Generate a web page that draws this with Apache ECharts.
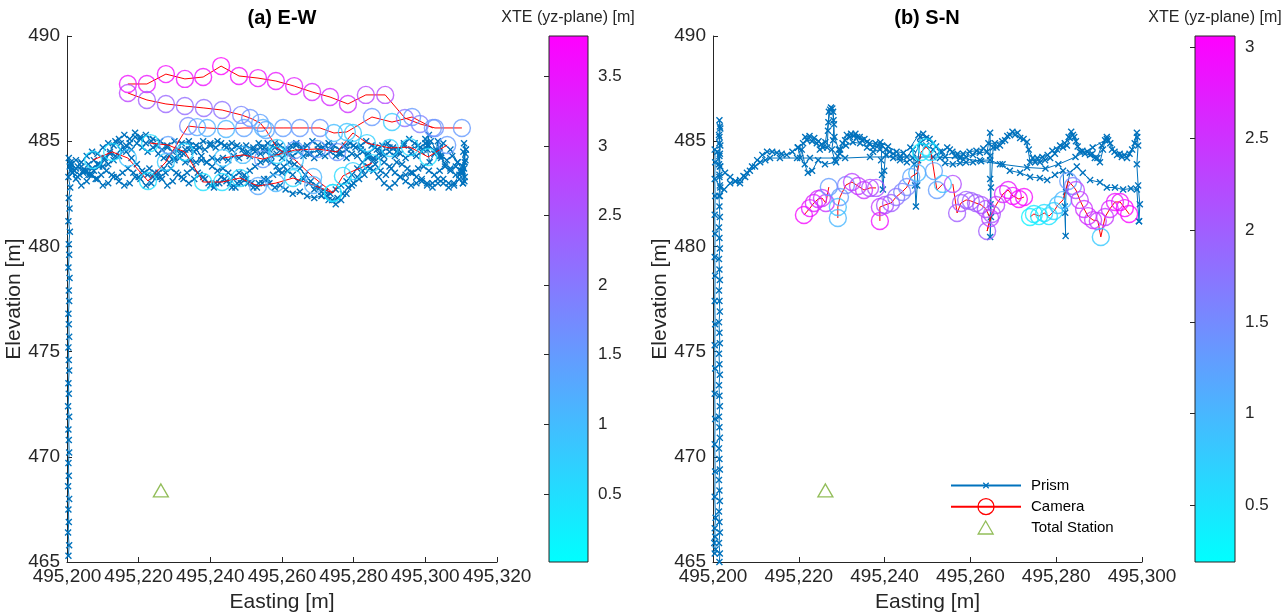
<!DOCTYPE html>
<html>
<head>
<meta charset="utf-8">
<script src="https://cdn.jsdelivr.net/npm/echarts@6/dist/echarts.min.js"></script>
<style>
  html, body { margin: 0; padding: 0; background: #fff; }
  #chart { width: 1288px; height: 613px; }
</style>
</head>
<body>
<div id="chart"></div>
<script>
// ---------- axis ticks ----------
const EASTING_TICKS_A = [495200, 495320, 20];   // min, max, step
const EASTING_TICKS_B = [495200, 495300, 20];
const ELEVATION_TICKS = [465, 490, 5];
const XTE_RANGE_A = [0.01, 3.79];
const XTE_RANGE_B = [0.19, 3.06];
const XTE_TICKS_A = [0.5, 1, 1.5, 2, 2.5, 3, 3.5];
const XTE_TICKS_B = [0.5, 1, 1.5, 2, 2.5, 3];

// Total station position [easting, elevation]
const totalStation = [495226.2, 468.4];

// ---------- (a) E-W : prism track [easting, elevation] ----------
const prismA_pass1 = [[495200.4,465.3],[495200.6,465.8],[495200.3,466.4],[495200.5,466.9],[495200.4,467.5],[495200.6,468.0],[495200.3,468.6],[495200.5,469.1],[495200.4,469.7],[495200.6,470.2],[495200.5,470.8],[495200.4,471.3],[495200.6,471.9],[495200.3,472.4],[495200.5,473.0],[495200.4,473.5],[495200.6,474.1],[495200.5,474.6],[495200.4,475.2],[495200.6,475.7],[495200.5,476.3],[495200.4,476.8],[495200.6,477.4],[495200.5,477.9],[495200.7,478.5],[495200.4,479.0],[495200.6,479.6],[495200.5,480.1],[495200.8,480.7],[495200.4,481.2],[495200.7,481.8],[495200.5,482.3],[495200.9,482.8],[495200.4,483.3],[495200.8,483.8],[495200.5,484.2],
  [495201.2,483.6],[495202.5,483.2],[495204,482.9],[495205.5,483.1],[495207,483.4],[495208.5,483.2],[495210,482.9],[495211.5,483.0],[495213,483.3],[495214.5,483.1],[495216,482.9],[495217.5,483.0],[495219,483.3],[495220.5,483.2],[495222,482.9],[495223.5,483.0],[495225,483.3],[495226.5,483.2],[495228,482.9],[495229.5,483.1],[495231,483.4],[495232.5,483.2],[495234,483.0],[495235.5,483.2],[495237,483.4],[495238.5,483.2],[495240,482.9],[495241.5,483.0],[495243,483.3],[495244.5,483.1],[495246,482.8],[495247.5,483.0],[495249,483.2],[495250.5,483.0],[495252,482.8],[495253.5,483.0],[495255,483.2],[495256.5,483.0],[495258,482.8],[495259.5,482.9],[495261,482.7],[495263,482.5],[495265,482.6],[495267,482.4],[495269,482.3],[495271,482.4],[495273,482.2],[495275,482.0],[495276.5,482.2],[495278,482.5],[495279.5,482.9],[495281,483.3],[495282.5,483.6],[495284,483.8],[495285.5,483.6],[495287,483.3],[495288.5,483.0],[495290,482.8],[495291.5,483.0],[495293,483.3],[495294.5,483.1],[495296,482.9],[495297.5,483.0],[495299,483.2],[495300.5,483.0],[495302,482.8],[495303.5,483.0],[495305,483.2],[495306.5,483.0],[495308,482.9],[495309.5,483.2],[495310.5,483.0]];
const prismA_pass2 = [[495310.5,483.0],[495311,483.3],[495310.8,483.7],[495311.2,484.1],[495310.6,484.5],[495311,484.0],[495310.5,483.5],[495310.9,483.1],[495310.4,483.6],[495309,484.0],[495307,484.6],[495305,484.9],[495304,484.3],[495303.5,485.0],[495303,484.5],[495301,484.8],[495300,485.1],[495299.5,484.6],[495298,484.8],[495296,484.6],[495294,484.8],[495292,484.5],[495290,484.7],[495288,484.5],[495286,484.7],[495284,484.4],[495282,484.6],[495280,484.8],[495278,484.6],[495276,484.4],[495274,484.6],[495272,484.8],[495270,484.6],[495268,484.4],[495266,484.6],[495264,484.8],[495262,484.6],[495260,484.5],[495258,484.7],[495256,484.9],[495254,484.7],[495252,484.6],[495250,484.8],[495248,484.7],[495246,484.9],[495244,484.8],[495242,485.0],[495240,484.9],[495238,485.0],[495236,484.8],[495234,485.0],[495232,484.9],[495230,485.0],[495228,484.8],[495226,485.0],[495224,485.1],[495222,485.3],[495220.5,485.1],[495219,485.2],[495217.5,484.9],[495216,484.6],[495214.5,484.3],[495213,484.1],[495211.5,483.9],[495210,483.8],[495208.5,483.9],[495207,483.7],[495205.5,483.6],[495204,483.8],[495202.5,483.7],[495201.2,483.9]];
const prismA_pass3 = [[495201.2,483.9],[495201.5,483.5],[495203,483.8],[495204.5,483.6],[495206,483.9],[495207.5,484.1],[495209,483.9],[495210.5,484.2],[495212,484.4],[495213.5,484.3],[495215,484.6],[495216.5,484.8],[495218,484.6],[495219.5,484.9],[495221,484.7],[495222.5,484.5],[495224,484.7],[495225.5,484.4],[495227,484.2],[495228.5,484.3],[495230,484.1],[495231.5,484.2],[495233,484.0],[495234.5,484.1],[495236,484.0],[495237.5,484.1],[495239,484.0],[495240.5,484.2],[495242,484.1],[495243.5,484.2],[495245,484.1],[495246.5,484.3],[495248,484.2],[495249.5,484.4],[495251,484.3],[495252.5,484.5],[495254,484.4],[495255.5,484.5],[495257,484.3],[495258.5,484.4],[495260,484.2],[495261.5,484.4],[495263,484.3],[495264.5,484.5],[495266,484.3],[495267.5,484.4],[495269,484.2],[495270.5,484.4],[495272,484.3],[495273.5,484.5],[495275,484.3],[495276.5,484.4],[495278,484.2],[495279.5,484.4],[495281,484.3],[495282.5,484.5],[495284,484.3],[495285.5,484.2],[495287,484.4],[495288.5,484.3],[495290,484.5],[495291.5,484.3],[495293,484.4],[495294.5,484.2],[495296,484.4],[495297.5,484.3],[495299,484.5],[495300.5,484.8],[495301,485.3],[495300.6,484.6],[495301.2,484.0],[495302.5,484.4],[495304,484.7],[495304.4,484.2],[495305.5,483.9],[495307,483.7],[495308.5,483.8],[495310,483.6]];
const prismA_pass4 = [[495310,483.6],[495309.5,483.4],[495308,483.0],[495306.5,482.8],[495305,483.0],[495303.5,483.2],[495302,483.0],[495300.5,482.9],[495299,483.1],[495297.5,483.3],[495296,483.5],[495294.5,483.4],[495293,483.3],[495291.5,483.5],[495290,483.8],[495288.5,484.0],[495287,484.2],[495285.5,484.1],[495284,484.2],[495282.5,484.0],[495281,483.7],[495279.5,483.4],[495278,483.1],[495276.5,482.9],[495275,482.7],[495273.5,482.5],[495272,482.6],[495270.5,482.8],[495269,482.7],[495267.5,483.0],[495266,483.2],[495264.5,483.1],[495263,483.4],[495261.5,483.6],[495260,483.5],[495258.5,483.8],[495257,484.0],[495255.5,484.1],[495254,484.0],[495252.5,483.8],[495251,483.6],[495249.5,483.4],[495248,483.5],[495246.5,483.3],[495245,483.5],[495243.5,483.7],[495242,483.6],[495240.5,483.8],[495239,484.0],[495237.5,484.3],[495236,484.6],[495234.5,484.8],[495233,484.6],[495231.5,484.4],[495230,484.2],[495228.5,484.0],[495227,483.7],[495225.5,483.5],[495224,483.3],[495222.5,483.4],[495221,483.6],[495219.5,483.9],[495218,484.2],[495216.5,484.5],[495215,484.9],[495213.5,485.0],[495212,484.5],[495210.5,484.1],[495209,483.8],[495207.5,483.6],[495206,483.4],[495204.5,483.5],[495203,483.3],[495201.5,483.5],[495200.8,483.8]];
const prismA_pass5 = [[495201.0,483.9],[495202.5,484.1],[495204,484.0],[495205.5,484.3],[495207,484.5],[495208.5,484.4],[495210,484.7],[495211.5,484.9],[495213,484.8],[495214.5,485.1],[495216,485.3],[495217.5,485.1],[495219,485.4],[495220.5,485.2],[495222,484.9],[495223.5,485.0],[495225,484.8],[495226.5,484.6],[495228,484.7],[495229.5,484.5],[495231,484.6],[495232.5,484.4],[495234,484.6],[495235.5,484.5],[495237,484.7],[495238.5,484.6],[495240,484.8],[495241.5,484.7],[495243,484.9],[495244.5,484.7],[495246,484.6],[495247.5,484.8],[495249,484.6],[495250.5,484.5],[495252,484.7],[495253.5,484.9],[495255,484.7],[495256.5,484.6],[495258,484.9],[495259.5,484.8],[495261,484.6],[495262.5,484.8],[495264,484.9],[495265.5,484.7],[495267,484.8],[495268.5,485.0],[495270,484.8],[495271.5,484.7],[495273,484.9],[495274.5,484.8],[495276,484.6],[495277.5,484.8],[495279,484.9],[495280.5,484.7],[495282,484.8],[495283.5,485.0],[495285,484.8],[495286.5,484.6],[495288,484.8],[495289.5,484.9],[495291,484.7],[495292.5,484.6],[495294,484.9],[495295.5,485.1],[495297,484.9],[495298.5,484.7],[495300,484.9],[495301.5,485.0],[495303,484.6],[495304.5,484.3],[495306,484.1],[495307.5,484.3],[495309,484.0],[495310.5,483.8],[495311.2,484.4],[495310.8,484.9],[495311.3,484.6]];
const prismA_pass6 = [[495311.3,484.6],[495310,483.5],[495308.5,483.4],[495307,483.6],[495305.5,483.8],[495304,483.6],[495302.5,483.4],[495301,483.6],[495299.5,483.8],[495298,483.7],[495296.5,483.5],[495295,483.7],[495293.5,483.9],[495292,484.0],[495290.5,483.7],[495289,483.4],[495287.5,483.6],[495286,483.9],[495284.5,483.7],[495283,483.4],[495281.5,483.2],[495280,483.0],[495278.5,482.8],[495277,482.5],[495275.5,482.3],[495274,482.2],[495272.5,482.4],[495271,482.6],[495269.5,482.9],[495268,483.1],[495266.5,483.4],[495265,483.7],[495263.5,483.9],[495262,484.0],[495260.5,483.8],[495259,483.6],[495257.5,483.4],[495256,483.2],[495254.5,483.0],[495253,482.8],[495251.5,483.0],[495250,483.2],[495248.5,483.0],[495247,482.8],[495245.5,483.0],[495244,483.2],[495242.5,483.0],[495241,482.8],[495239.5,483.0],[495238,483.3],[495236.5,483.5],[495235,483.7],[495233.5,483.5],[495232,483.3],[495230.5,483.5],[495229,483.7],[495227.5,483.5],[495226,483.3],[495224.5,483.5],[495223,483.7],[495221.5,483.5],[495220,483.3],[495218.5,483.5],[495217,483.7],[495215.5,483.5],[495214,483.3],[495212.5,483.4],[495211,483.6],[495209.5,483.4],[495208,483.2],[495206.5,483.4],[495205,483.6],[495203.5,483.4],[495202,483.6],[495201,484.0]];

// ---------- (a) E-W : camera positions [easting, elevation, XTE] ----------
const cameraA_run1 = [[495217.0,487.72,3.55],[495222.3,487.72,3.5],[495227.6,488.19,3.6],[495232.9,487.96,3.5],[495238.0,488.05,3.55],[495243.0,488.57,3.75],[495248.0,488.1,3.55],[495253.3,488.0,3.5],[495258.3,487.86,3.45],[495263.4,487.62,3.35],[495268.4,487.34,3.2],[495273.4,487.1,3.15],[495278.4,486.77,3.1],[495283.4,487.2,2.75],[495288.8,487.2,2.7],[495294.3,486.1,2.1],[495298.5,485.82,1.9],[495302.7,485.63,1.6],[495310.2,485.63,1.5]];
const cameraA_run2 = [[495217.0,487.29,2.8],[495222.3,486.96,2.4],[495227.6,486.77,2.3],[495232.9,486.67,2.2],[495238.2,486.58,2.2],[495243.3,486.48,2.1],[495248.6,486.25,1.8],[495251.1,486.1,1.6],[495253.9,485.87,1.4],[495255.5,485.53,1.3],[495258.6,484.68,0.8],[495263.6,484.11,0.9],[495268.7,483.3,1.1],[495274.2,482.54,0.5],[495277.0,483.35,0.55],[495279.8,483.58,0.7],[495285.1,483.96,0.6]];
const cameraA_run3 = [[495207.3,484.11,0.55],[495212.6,484.49,0.5],[495217.0,484.2,0.9],[495222.6,483.11,0.45],[495227.6,484.01,0.8],[495233.8,485.72,1.8],[495236.3,485.67,1.3],[495239.1,485.63,1.2],[495244.4,485.58,1.1],[495249.4,485.63,1.4],[495254.7,485.63,1.2],[495260.3,485.63,1.45],[495265.0,485.63,1.5],[495270.6,485.63,1.6],[495274.5,485.39,1.0],[495278.1,485.44,0.9],[495285.1,486.15,1.5],[495290.7,485.91,0.8],[495296.3,486.15,1.5],[495302.1,485.63,1.6]];
const cameraA_run4 = [[495223.2,484.91,0.5],[495228.2,484.82,1.4],[495232.9,484.49,0.6],[495238.0,483.06,0.45],[495243.3,483.06,0.5],[495248.3,483.25,0.6],[495253.3,482.87,1.3],[495258.3,483.01,1.1],[495263.1,483.25,0.6],[495268.7,482.92,1.2],[495274.2,482.54,0.5]];
const cameraA_run5 = [[495243.5,484.2,0.9],[495249.1,484.35,1.0],[495254.7,484.15,1.5],[495258.6,484.35,0.6],[495263.6,484.58,1.5],[495269.8,484.63,1.5],[495275.4,484.49,1.6],[495279.8,485.39,0.8],[495283.7,484.91,0.7],[495290.1,484.68,0.7],[495295.7,484.72,0.6],[495300.8,484.25,0.5],[495306.1,484.82,1.5]];

// ---------- (b) S-N : prism track [easting, elevation] ----------
const prismB_line1 = [[495200.4,465.4],[495200.6,465.6],[495200.3,465.9],[495200.5,466.2],[495200.4,466.6],[495200.6,467.1],[495200.4,468.1],[495200.5,469.3],[495200.4,470.6],[495200.5,471.8],[495200.4,473.0],[495200.5,474.2],[495200.4,475.3],[495200.5,476.3],[495200.4,477.4],[495200.5,478.6],[495200.4,479.5],[495200.5,480.6],[495200.4,481.5],[495200.5,482.4],[495200.4,483.2],[495200.5,484.0],[495200.4,484.6],[495201.0,484.5],[495201.6,483.8],[495202.8,483.5],[495204.0,483.3],[495205.2,483.1],[495206.3,483.0],[495207.5,483.3],[495208.6,483.6],[495209.8,483.8],[495211.0,484.0],[495212.2,484.1],[495213.3,484.2],[495215.6,484.2],[495219.6,484.2],[495222.6,484.2],[495230.8,484.2],[495236.6,484.25],[495243.6,484.25],[495251.3,484.25],[495257.6,484.2],[495262.5,484.05],[495267.5,483.9],[495273.2,483.75],[495277.5,483.7],[495280.5,483.9],[495284.5,484.25],[495288.5,484.7],[495291.8,485.1]];
const prismB_line2 = [[495201.5,465.0],[495201.6,465.4],[495201.4,465.9],[495201.6,466.4],[495201.5,466.9],[495201.4,467.4],[495201.6,467.9],[495201.5,468.4],[495201.4,468.9],[495201.6,469.4],[495201.5,469.9],[495201.4,470.4],[495201.6,470.9],[495201.5,471.4],[495201.4,471.9],[495201.6,472.4],[495201.5,472.9],[495201.4,473.4],[495201.6,473.9],[495201.5,474.4],[495201.4,474.9],[495201.6,475.4],[495201.5,475.9],[495201.4,476.4],[495201.6,476.9],[495201.5,477.4],[495201.4,477.9],[495201.6,478.4],[495201.5,478.9],[495201.4,479.4],[495201.6,479.9],[495201.5,480.4],[495201.4,480.9],[495201.6,481.4],[495201.5,481.9],[495201.4,482.4],[495201.6,482.9],[495201.5,483.4],[495201.4,483.9],[495201.6,484.4],[495201.5,484.9],[495201.4,485.3],[495201.6,485.7],[495201.5,486.0],[495201.7,485.6],[495201.5,485.2],[495201.7,484.8],[495201.5,484.3],[495201.7,483.8],[495201.5,483.3],[495201.7,482.8],[495201.6,482.4],
  [495202.6,482.7],[495204.0,483.0],[495205.2,483.1],[495206.3,483.15],[495207.1,483.35],[495207.9,483.5],[495209.1,483.8],[495210.3,484.1],[495211.5,484.35],[495212.6,484.5],[495213.8,484.5],[495214.9,484.45],[495216.0,484.4],[495217.2,484.35],[495218.5,484.5],[495219.8,484.7]];
const prismB_band = [[495219.8,484.7],[495220.3,484.2],[495221.0,484.9],[495221.9,485.05],[495223.1,485.0],[495224.2,484.9],[495224.9,484.6],[495225.6,484.7],[495226.6,484.7],[495226.8,485.5],[495227.0,486.4],[495227.5,486.6],[495228.0,486.4],[495228.2,485.8],[495228.0,485.05],[495227.7,484.6],[495228.4,484.1],[495229.1,484.3],[495229.6,484.4],[495230.8,485.05],[495231.9,485.2],[495232.8,485.25],[495233.6,485.2],[495234.7,485.05],[495235.9,484.96],[495237.3,484.7],[495238.5,484.8],[495239.4,484.8],[495239.2,484.1],[495239.4,483.4],[495239.6,482.7],[495239.9,483.6],[495240.3,484.6],[495241.2,484.5],[495242.0,484.4],[495243.6,484.25],[495245.2,484.25],[495246.6,484.6],[495246.9,483.9],[495247.1,482.9],[495247.3,481.9],[495247.6,482.9],[495247.8,484.1],[495248.3,485.2],[495249.7,485.15],[495251.3,484.9],[495252.9,484.5],[495254.1,484.25],[495255.2,484.6],[495256.4,484.3],[495257.6,484.2],[495259.0,484.25],[495260.6,484.35],[495262.2,484.45],[495263.9,484.5],[495264.6,485.4],[495264.6,484.3],[495264.6,483.2],[495264.7,482.0],[495264.6,480.45],[495264.8,481.4],[495264.8,482.8],[495265.3,484.7],[495266.1,484.7],[495266.9,484.8],[495268.1,485.05],[495269.2,485.3],[495270.4,485.3],[495271.6,485.15],[495273.2,484.96],[495273.9,484.0],[495275.1,484.0],[495276.2,484.0],[495277.4,484.1],[495278.6,484.2],[495279.7,484.4],[495280.2,484.6],[495281.6,484.7],[495282.5,484.8],[495283.2,485.15],[495283.9,485.3],[495284.6,485.0],[495285.5,484.5],[495286.7,484.4],[495287.9,484.35],[495289.0,484.2],[495290.2,484.0],[495290.9,484.6],[495291.4,485.05],[495292.1,485.05],[495293.0,484.6],[495294.2,484.35],[495295.3,484.25],[495296.5,484.2],[495297.7,484.6],[495298.8,485.4],[495299.1,484.8],[495298.8,483.9],[495299.1,482.9],[495299.5,482.0],[495299.3,481.2]];
const prismB_band2 = [[495221.5,485.2],[495222.5,485.25],[495223.6,485.15],[495224.6,485.0],[495225.3,484.85],[495226.2,484.95],[495226.9,485.9],[495227.3,486.5],[495227.8,486.55],[495228.1,486.0],[495228.3,485.2],[495229.3,484.6],[495230.2,484.9],[495231.2,485.3],[495232.2,485.35],[495233.2,485.35],[495234.2,485.2],[495235.3,485.1],[495236.5,484.9],[495237.9,484.9],[495239.0,484.95],[495240.8,484.75],[495242.8,484.5],[495244.4,484.45],[495246.0,484.7],[495247.9,485.3],[495249.0,485.35],[495250.5,485.1],[495252.0,484.75],[495253.4,484.5],[495254.6,484.7],[495255.8,484.5],[495257.0,484.4],[495258.3,484.4],[495259.8,484.5],[495261.4,484.55],[495263.0,484.65],[495264.2,484.9],[495265.7,484.9],[495267.4,485.0],[495268.6,485.25],[495269.8,485.45],[495271.0,485.4],[495272.4,485.1],[495273.6,484.6],[495274.5,484.2],[495275.6,484.2],[495276.8,484.25],[495278.0,484.35],[495279.1,484.55],[495280.9,484.8],[495282.0,484.9],[495282.9,485.2],[495283.5,485.45],[495284.2,485.2],[495285.0,484.75],[495286.1,484.55],[495287.3,484.5],[495288.4,484.4],[495289.6,484.2],[495290.6,484.8],[495291.8,485.2],[495292.6,484.9],[495293.6,484.5],[495294.8,484.4],[495295.9,484.35],[495297.1,484.4],[495298.3,484.9],[495298.9,485.2]];
const prismB_return = [[495299.3,481.2],[495298.8,482.7],[495297.4,482.75],[495295.6,482.7],[495293.7,482.8],[495291.8,482.8],[495290.2,483.05],[495287.9,483.15],[495286.2,483.5],[495284.8,483.8],[495283.2,483.5],[495282.3,482.6],[495282.1,481.6],[495282.2,480.5],[495282.0,481.9],[495281.6,483.6],[495279.7,483.4],[495277.9,483.15],[495276.2,483.25],[495273.9,483.3],[495271.6,483.5],[495269.2,483.6],[495266.9,483.9],[495264.6,484.1],[495262.2,484.1],[495260.6,484.0],[495259.0,484.0],[495257.6,483.96],[495255.9,483.9],[495254.1,483.96],[495252.9,484.2],[495251.3,484.6],[495249.7,484.8],[495248.3,484.9],[495246.6,484.2],[495245.2,484.0],[495243.6,484.1],[495242.0,484.2],[495240.3,484.35],[495238.9,484.6],[495237.3,484.5],[495235.9,484.7],[495234.3,484.9],[495232.6,484.95],[495231.0,484.8],[495229.6,484.6],[495228.7,484.0],[495226.1,483.9],[495224.5,484.1],[495223.1,483.6],[495222.1,483.5],[495221.4,483.9],[495220.7,484.6],[495219.8,484.7]];

// ---------- (b) S-N : camera positions [easting, elevation, XTE] ----------
const cameraB_run1 = [[495221.2,481.49,2.95],[495222.6,481.82,2.85],[495223.5,482.06,2.7],[495224.5,482.25,2.6],[495225.4,482.3,2.5],[495226.3,482.06,2.45],[495227.0,482.82,1.3]];
const cameraB_run2 = [[495229.1,481.35,1.0],[495229.1,481.87,0.9],[495229.6,482.35,1.3],[495231.0,482.92,1.6],[495232.4,483.06,2.3],[495233.8,482.87,2.4],[495235.2,482.68,2.5],[495236.6,482.78,2.2],[495238.0,482.78,2.1]];
const cameraB_run3 = [[495238.9,481.21,2.9],[495238.9,481.87,2.4],[495240.1,481.97,2.2],[495241.5,482.06,2.0],[495242.7,482.35,1.8],[495244.1,482.59,1.6],[495245.2,482.82,1.5],[495246.2,483.3,1.2],[495247.6,483.49,1.0],[495248.5,484.49,0.4],[495249.7,484.72,0.5],[495250.8,484.49,0.6],[495251.5,483.58,1.2],[495252.2,482.68,1.3],[495253.6,482.97,0.9]];
const cameraB_run4 = [[495255.9,482.97,2.2],[495256.9,481.59,2.0],[495257.8,482.06,2.1],[495259.0,482.21,2.0],[495260.1,482.16,1.95],[495261.3,482.06,2.0],[495262.5,481.97,2.1],[495263.6,481.78,2.2],[495264.6,481.35,2.35],[495263.9,480.73,2.0],[495265.0,481.54,2.1],[495266.0,481.97,2.3],[495267.6,482.49,2.6],[495268.8,482.68,2.8],[495269.9,482.4,2.9],[495271.3,482.25,3.0],[495272.5,482.35,2.95]];
const cameraB_run5 = [[495273.9,481.4,0.35],[495274.8,481.54,0.45],[495276.0,481.44,0.4],[495277.2,481.59,0.55],[495278.3,481.44,0.5],[495279.5,481.68,0.65],[495280.4,481.97,0.9],[495281.6,482.21,1.0],[495282.8,483.11,1.3],[495283.9,482.87,1.6],[495284.6,482.68,2.3],[495285.5,482.21,2.4],[495286.5,481.78,2.5],[495287.4,481.44,2.6],[495288.6,481.25,2.5],[495289.7,481.21,2.4],[495290.4,480.45,0.8],[495291.4,481.4,2.4],[495292.5,481.78,2.6],[495293.7,482.11,2.8],[495294.9,482.11,2.9],[495296.0,481.82,3.0],[495297.0,481.54,3.0]];

// ---------- styling ----------
const FONT = '"Liberation Sans", Arial, Helvetica, sans-serif';
const AXIS_GRAY = '#262626';
const PRISM_BLUE = '#0072BD';
const CAMERA_RED = '#FF0000';
const STATION_GREEN = '#77AC30';
const X_MARK = 'path://M0,1.4L1.4,0L5,3.6L8.6,0L10,1.4L6.4,5L10,8.6L8.6,10L5,6.4L1.4,10L0,8.6L3.6,5Z';

// cyan -> magenta ("cool") colour map
function coolColor(v, range) {
  let t = (v - range[0]) / (range[1] - range[0]);
  t = Math.max(0, Math.min(1, t));
  return 'rgb(' + Math.round(255 * t) + ',' + Math.round(255 * (1 - t)) + ',255)';
}
function thousands(v) {
  return String(v).replace(/\B(?=(\d{3})+(?!\d))/g, ',');
}

// fixed plot boxes; labels may sit outside them
const GRID_A = { left: 67, top: 36, width: 430, height: 526, outerBoundsMode: 'none' };
const GRID_B = { left: 713, top: 36, width: 429, height: 526, outerBoundsMode: 'none' };
const BAR_A = { left: 549, top: 36, width: 39, height: 526, outerBoundsMode: 'none' };
const BAR_B = { left: 1195, top: 36, width: 40, height: 526, outerBoundsMode: 'none' };

function eastingAxis(idx, ticks) {
  return {
    type: 'value', gridIndex: idx, min: ticks[0], max: ticks[1], interval: ticks[2],
    name: 'Easting [m]', nameLocation: 'middle', nameGap: 30,
    nameTextStyle: { fontFamily: FONT, fontSize: 21, color: AXIS_GRAY },
    axisLine: { show: true, onZero: false, lineStyle: { color: AXIS_GRAY, width: 1 } },
    axisTick: { show: true, inside: true, length: 5, lineStyle: { color: AXIS_GRAY } },
    axisLabel: { fontFamily: FONT, fontSize: 19, color: AXIS_GRAY, margin: 5, formatter: thousands, hideOverlap: false },
    splitLine: { show: false }
  };
}
function elevationAxis(idx) {
  return {
    type: 'value', gridIndex: idx, min: ELEVATION_TICKS[0], max: ELEVATION_TICKS[1], interval: ELEVATION_TICKS[2],
    name: 'Elevation [m]', nameLocation: 'middle', nameGap: 34, nameRotate: 90,
    nameTextStyle: { fontFamily: FONT, fontSize: 21, color: AXIS_GRAY },
    axisLine: { show: true, onZero: false, lineStyle: { color: AXIS_GRAY, width: 1 } },
    axisTick: { show: true, inside: true, length: 5, lineStyle: { color: AXIS_GRAY } },
    axisLabel: { fontFamily: FONT, fontSize: 19, color: AXIS_GRAY, margin: 7 },
    splitLine: { show: false }
  };
}
function barAxisX(idx) {
  return { type: 'value', gridIndex: idx, min: 0, max: 1, show: false };
}
function barAxisY(idx, range, ticks) {
  return {
    type: 'value', gridIndex: idx, min: range[0], max: range[1], position: 'right', z: 10,
    axisLine: { show: false },
    axisTick: { show: true, inside: true, length: 5, customValues: ticks, lineStyle: { color: AXIS_GRAY } },
    axisLabel: { fontFamily: FONT, fontSize: 17, color: AXIS_GRAY, margin: 10, customValues: ticks },
    splitLine: { show: false }
  };
}

function prismSeries(data, idx) {
  return {
    type: 'line', name: 'Prism', xAxisIndex: idx, yAxisIndex: idx, data: data,
    symbol: X_MARK, symbolSize: 7, showSymbol: true, showAllSymbol: true,
    lineStyle: { color: PRISM_BLUE, width: 1 }, itemStyle: { color: PRISM_BLUE },
    z: 2, silent: true, animation: false
  };
}
function cameraLine(run, idx) {
  return {
    type: 'line', name: 'Camera', xAxisIndex: idx, yAxisIndex: idx,
    data: run.map(p => [p[0], p[1]]),
    symbol: 'circle', symbolSize: 17, showSymbol: false,
    lineStyle: { color: CAMERA_RED, width: 1 },
    itemStyle: { color: 'rgba(0,0,0,0)', borderColor: CAMERA_RED, borderWidth: 1.3 },
    z: 3, silent: true, animation: false
  };
}
function cameraCircles(runs, idx, range) {
  const pts = [];
  runs.forEach(run => run.forEach(p => pts.push({
    value: [p[0], p[1]],
    itemStyle: { borderColor: coolColor(p[2], range) }
  })));
  return {
    type: 'scatter', name: 'Camera XTE', xAxisIndex: idx, yAxisIndex: idx, data: pts,
    symbol: 'circle', symbolSize: 17,
    itemStyle: { color: 'rgba(0,0,0,0)', borderWidth: 1.4 },
    z: 4, silent: true, animation: false
  };
}
function stationSeries(idx) {
  return {
    type: 'scatter', name: 'Total Station', xAxisIndex: idx, yAxisIndex: idx, data: [totalStation],
    symbol: 'triangle', symbolSize: [15, 13],
    itemStyle: { color: 'rgba(0,0,0,0)', borderColor: STATION_GREEN, borderWidth: 1.3 },
    z: 5, silent: true, animation: false
  };
}
function colorBar(idx, range) {
  return {
    type: 'line', xAxisIndex: idx, yAxisIndex: idx, data: [[0, range[0]]],
    symbol: 'none', lineStyle: { opacity: 0 }, silent: true, animation: false,
    markArea: {
      silent: true,
      itemStyle: {
        color: new echarts.graphic.LinearGradient(0, 0, 0, 1, [
          { offset: 0, color: '#FF00FF' }, { offset: 1, color: '#00FFFF' }
        ]),
        borderColor: AXIS_GRAY, borderWidth: 1
      },
      data: [[{ coord: [0, range[0]] }, { coord: [1, range[1]] }]]
    }
  };
}

const camerasA = [cameraA_run1, cameraA_run2, cameraA_run3, cameraA_run4, cameraA_run5];
const camerasB = [cameraB_run1, cameraB_run2, cameraB_run3, cameraB_run4, cameraB_run5];

const series = [];
[prismA_pass1, prismA_pass2, prismA_pass3, prismA_pass4, prismA_pass5, prismA_pass6].forEach(d => series.push(prismSeries(d, 0)));
[prismB_line1, prismB_line2, prismB_band, prismB_band2, prismB_return].forEach(d => series.push(prismSeries(d, 1)));
camerasA.forEach(r => series.push(cameraLine(r, 0)));
camerasB.forEach(r => series.push(cameraLine(r, 1)));
series.push(cameraCircles(camerasA, 0, XTE_RANGE_A));
series.push(cameraCircles(camerasB, 1, XTE_RANGE_B));
series.push(stationSeries(0));
series.push(stationSeries(1));
series.push(colorBar(2, XTE_RANGE_A));
series.push(colorBar(3, XTE_RANGE_B));

function textEl(text, x, y, size, weight, color) {
  return {
    type: 'text', x: x, y: y, silent: true,
    style: { text: text, fontFamily: FONT, fontSize: size, fontWeight: weight, fill: color, align: 'center', verticalAlign: 'middle' }
  };
}

const legendBase = {
  orient: 'vertical', left: 950, itemWidth: 70, itemGap: 0, padding: 0,
  textStyle: { fontFamily: FONT, fontSize: 15, color: '#000', padding: [0, 0, 0, 5] },
  itemStyle: { borderWidth: 1.3 }, selectedMode: false
};

const option = {
  backgroundColor: '#ffffff',
  animation: false,
  grid: [GRID_A, GRID_B, BAR_A, BAR_B],
  xAxis: [eastingAxis(0, EASTING_TICKS_A), eastingAxis(1, EASTING_TICKS_B), barAxisX(2), barAxisX(3)],
  yAxis: [elevationAxis(0), elevationAxis(1), barAxisY(2, XTE_RANGE_A, XTE_TICKS_A), barAxisY(3, XTE_RANGE_B, XTE_TICKS_B)],
  legend: [
    Object.assign({}, legendBase, { data: ['Prism'], top: 478, itemHeight: 8 }),
    Object.assign({}, legendBase, { data: ['Camera'], top: 498, itemHeight: 20 }),
    Object.assign({}, legendBase, {
      data: ['Total Station'], top: 520, left: 977.5, itemWidth: 15, itemHeight: 13,
      textStyle: { fontFamily: FONT, fontSize: 15, color: '#000', padding: [0, 0, 0, 33] }
    })
  ],
  graphic: [
    textEl('(a) E-W', 282, 18, 20, 'bold', '#000'),
    textEl('(b) S-N', 927, 18, 20, 'bold', '#000'),
    textEl('XTE (yz-plane) [m]', 568, 18, 16, 'normal', AXIS_GRAY),
    textEl('XTE (yz-plane) [m]', 1215, 18, 16, 'normal', AXIS_GRAY)
  ],
  series: series
};

const chart = echarts.init(document.getElementById('chart'), null, { renderer: 'canvas' });
chart.setOption(option);
</script>
</body>
</html>
